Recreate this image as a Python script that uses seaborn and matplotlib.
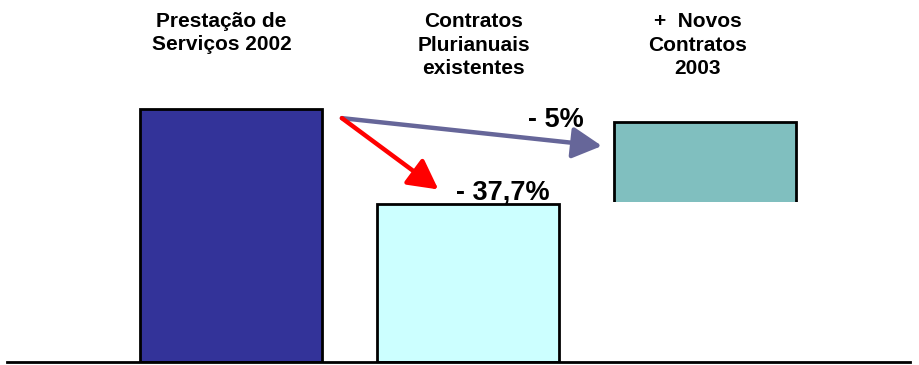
import matplotlib
matplotlib.use("Agg")
import matplotlib.pyplot as plt
import seaborn as sns
import pandas as pd
import numpy as np

categories = ["Prestação de\nServiços 2002", "Contratos\nPlurianuais\nexistentes", "+  Novos\nContratos\n2003"]
totals = [100.0, 62.3, 95.0]
hidden_base = [np.nan, np.nan, 63.2]
bar_colors = ["#333399", "#CCFFFF", "#80BFBF"]
pct_labels = ["- 37,7%", "- 5%"]

sns.set_theme(style="white")
plt.rcParams['font.family'] = ['Liberation Sans', 'DejaVu Sans']

fig = plt.figure(figsize=(9.2, 3.65), dpi=100)
ax = fig.add_axes([7/920, 3/365, 903/920, 362/365])

df = pd.DataFrame({"cat": categories, "total": totals, "base": hidden_base})
sns.barplot(data=df, x="cat", y="total", hue="cat", palette=bar_colors, legend=False,
            order=categories, edgecolor="black", linewidth=2, width=0.77,
            saturation=1, ax=ax)
sns.barplot(data=df, x="cat", y="base", color="white", order=categories,
            linewidth=0, width=0.80, saturation=1, ax=ax)

ax.set_xlim(-0.945, 2.865)
ax.set_ylim(0, 143.1)
ax.set_xlabel("")
ax.set_ylabel("")
ax.set_xticks([])
ax.set_yticks([])
for s in ["top", "left", "right"]:
    ax.spines[s].set_visible(False)
ax.spines["bottom"].set_color("black")
ax.spines["bottom"].set_linewidth(2)
ax.spines["bottom"].set_zorder(5)

# Column headers
hdr_x = [-0.04, 1.025, 1.97]
hdr_y = [130.0, 125.3, 125.3]
for x, y, t in zip(hdr_x, hdr_y, categories):
    ax.text(x, y, t, ha="center", va="center", fontsize=15, fontweight="bold",
            linespacing=1.28, color="black")

# Arrows
ax.annotate("", xy=(1.565, 85.4), xytext=(0.468, 96.4),
            arrowprops=dict(arrowstyle="-|>,head_length=1.5,head_width=0.8",
                            color="#666699", lw=3.2, shrinkA=0, shrinkB=0))
ax.annotate("", xy=(0.875, 68.2), xytext=(0.468, 96.4),
            arrowprops=dict(arrowstyle="-|>,head_length=1.5,head_width=0.8",
                            color="#FF0000", lw=3.2, shrinkA=0, shrinkB=0))

ax.text(1.148, 67.0, pct_labels[0], ha="center", va="center", fontsize=19.5,
        fontweight="bold", color="black")
ax.text(1.371, 95.7, pct_labels[1], ha="center", va="center", fontsize=19.5,
        fontweight="bold", color="black")

fig.savefig("out.png", dpi=100)
